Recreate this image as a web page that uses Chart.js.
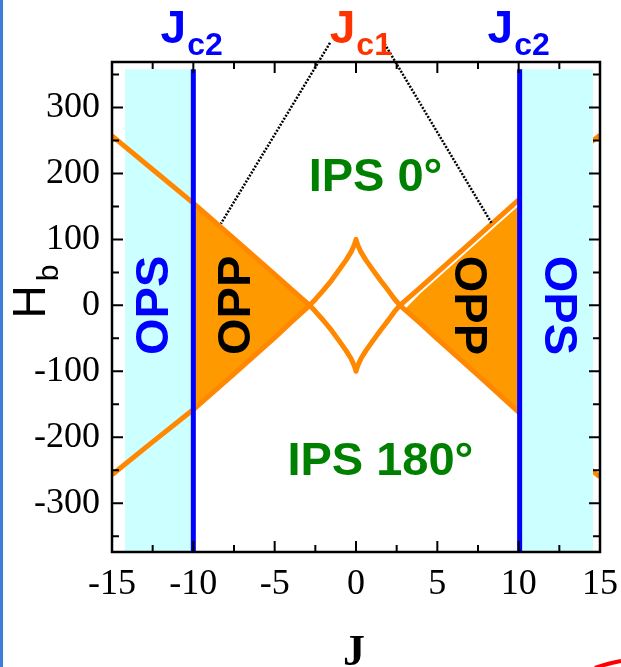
<!DOCTYPE html>
<html>
<head>
<meta charset="utf-8">
<script src="https://cdn.jsdelivr.net/npm/chart.js@4.4.1/dist/chart.umd.min.js"></script>
<style>
  html, body { margin: 0; padding: 0; background: #fff; }
  #wrap { position: relative; width: 621px; height: 667px; }
  #wrap::before { content: ""; position: absolute; left: 0; top: 0; width: 3px; height: 100%; background: #3b7dd8; }
</style>
</head>
<body>
<div id="wrap"><canvas id="phase" width="621" height="667"></canvas></div>
<script>
// axis ranges
const xMin = -15, xMax = 15;
const yMin = -374, yMax = 369;

// J grid shared by both boundary curves
const jGrid = [-15, -12.5, -10, -7.5, -5, -4, -2.85, -2.5, -2, -1.5, -1, -0.6, -0.3, -0.1, 0,
               0.1, 0.3, 0.6, 1, 1.5, 2, 2.35, 2.7, 4, 5, 7.5, 10, 12.5, 15];
// curve with the cusp at Hb = -100
const hLowerCusp = [257, 206, 155, 101, 47, 25, 0, -9, -23, -38, -55, -69, -81, -92, -100,
                    -92, -81, -69, -55, -38, -22, -10, 0, 28, 50, 105, 160, 210, 258];
// curve with the cusp at Hb = +100
const hUpperCusp = [-257, -207, -158, -104, -49, -26, 0, 9, 23, 38, 55, 69, 81, 92, 100,
                    92, 81, 69, 55, 38, 22, 10, 0, -28, -51, -106, -162, -212, -260];

// critical couplings
const jc2Left = -10, jc2Right = 10.06;
// OPS bands
const opsLeftEdge = -14.2, opsRightEdge = 14.57, bandTop = 358;

// right OPP region (drawn a little inside the upper boundary)
const oppRightJ = [3.0, 4, 5, 7.5, 10];
const oppRightTop = [-6, 19, 41, 96, 151];
const oppRightBottom = [-6, -28, -51, -106, -162];

// dotted leaders from the Jc1 label
const leaderLeftJ = [-1.6, -8.3], leaderLeftH = [398, 124];
const leaderRightJ = [1.65, 8.35], leaderRightH = [401, 124];

const pts = (js, hs) => js.map((j, i) => ({ x: j, y: hs[i] }));

// left OPP region lies between the two curves from Jc2 to the crossing
const iFrom = jGrid.indexOf(jc2Left), iTo = jGrid.indexOf(-2.85) + 1;
const oppLeftJ = jGrid.slice(iFrom, iTo);

const ORANGE_LINE = "#ff8800";
const ORANGE_FILL = "#ff9900";
const CYAN = "#ccffff";
const BLUE = "#0000ff";
const NONE = "rgba(0,0,0,0)";

const regionLabels = [
  { text: "IPS 0°", j: 1.2, h: 174, color: "#008000", rot: 0 },
  { text: "IPS 180°", j: 1.5, h: -257, color: "#008000", rot: 0 },
  { text: "OPS", j: -11.55, h: 0, color: BLUE, rot: -90 },
  { text: "OPP", j: -6.5, h: 0, color: "#000", rot: -90 },
  { text: "OPP", j: 6.1, h: 0, color: "#000", rot: 90 },
  { text: "OPS", j: 11.64, h: 0, color: BLUE, rot: 90 },
];
const jcLabels = [
  { sub: "c2", j: -10.1, color: BLUE },
  { sub: "c1", j: 0.3, color: "#ff3300" },
  { sub: "c2", j: 10.0, color: BLUE },
];

const decorations = {
  id: "decorations",
  afterDatasetsDraw(chart) {
    const { ctx, chartArea: area, scales: { x, y } } = chart;
    ctx.save();

    // region names
    ctx.font = "bold 47px 'Liberation Sans', Arial, sans-serif";
    ctx.textAlign = "center";
    ctx.textBaseline = "alphabetic";
    regionLabels.forEach(l => {
      ctx.save();
      ctx.translate(x.getPixelForValue(l.j), y.getPixelForValue(l.h));
      ctx.rotate(l.rot * Math.PI / 180);
      ctx.fillStyle = l.color;
      ctx.fillText(l.text, 0, 0);
      ctx.restore();
    });

    // Jc labels above the frame
    ctx.textAlign = "left";
    jcLabels.forEach(l => {
      const mainFont = "bold 46px 'Liberation Sans', Arial, sans-serif";
      const subFont = "bold 32px 'Liberation Sans', Arial, sans-serif";
      ctx.font = mainFont;
      const wMain = ctx.measureText("J").width;
      ctx.font = subFont;
      const wSub = ctx.measureText(l.sub).width;
      const start = x.getPixelForValue(l.j) - (wMain + wSub + 1) / 2;
      ctx.fillStyle = l.color;
      ctx.font = mainFont;
      ctx.fillText("J", start, area.top - 19);
      ctx.font = subFont;
      ctx.fillText(l.sub, start + wMain + 1, area.top - 7);
    });

    // frame
    ctx.strokeStyle = "#000";
    ctx.lineWidth = 2.5;
    ctx.strokeRect(area.left, area.top, area.right - area.left, area.bottom - area.top);

    // inward ticks on all four sides, minor ticks halfway
    ctx.lineWidth = 2;
    ctx.beginPath();
    for (let v = xMin; v <= xMax + 1e-9; v += 2.5) {
      const px = x.getPixelForValue(v);
      const len = Math.abs(v % 5) < 1e-9 ? 11 : 7;
      ctx.moveTo(px, area.bottom); ctx.lineTo(px, area.bottom - len);
      ctx.moveTo(px, area.top); ctx.lineTo(px, area.top + len);
    }
    for (let v = Math.ceil(yMin / 50) * 50; v <= yMax; v += 50) {
      const py = y.getPixelForValue(v);
      const len = v % 100 === 0 ? 11 : 7;
      ctx.moveTo(area.left, py); ctx.lineTo(area.left + len, py);
      ctx.moveTo(area.right, py); ctx.lineTo(area.right - len, py);
    }
    ctx.stroke();

    // axis titles
    ctx.fillStyle = "#000";
    ctx.font = "bold 44px 'Liberation Serif', 'Times New Roman', serif";
    ctx.textAlign = "center";
    ctx.fillText("J", (area.left + area.right) / 2 - 2, chart.height - 2);

    ctx.save();
    ctx.translate(area.left - 67, y.getPixelForValue(-20));
    ctx.rotate(-Math.PI / 2);
    ctx.textAlign = "left";
    ctx.font = "46px 'Liberation Sans', Arial, sans-serif";
    const wH = ctx.measureText("H").width;
    ctx.fillText("H", 0, 0);
    ctx.font = "30px 'Liberation Sans', Arial, sans-serif";
    ctx.fillText("b", wH + 4, 13);
    ctx.restore();

    // red stroke peeking in at the lower right
    ctx.strokeStyle = "#ff0000";
    ctx.lineWidth = 4;
    ctx.beginPath();
    ctx.moveTo(chart.width - 26, chart.height + 1);
    ctx.quadraticCurveTo(chart.width - 12, chart.height - 4, chart.width, chart.height - 6);
    ctx.stroke();

    ctx.restore();
  }
};

const flat = { pointRadius: 0, borderWidth: 0, borderColor: NONE };
const leader = { borderColor: "#000", borderWidth: 2.5, borderDash: [2, 1.5], pointRadius: 0, clip: false };
const boundary = { borderColor: ORANGE_LINE, borderWidth: 5, pointRadius: 0, borderJoinStyle: "round", fill: false };

new Chart(document.getElementById("phase"), {
  type: "line",
  data: {
    datasets: [
      { data: pts(leaderLeftJ, leaderLeftH), ...leader },
      { data: pts(leaderRightJ, leaderRightH), ...leader },
      { data: pts([jc2Left, jc2Left], [bandTop, yMin]), borderColor: BLUE, borderWidth: 5, pointRadius: 0 },
      { data: pts([jc2Right, jc2Right], [bandTop, yMin]), borderColor: BLUE, borderWidth: 5, pointRadius: 0 },
      { data: pts([jc2Right, opsRightEdge], [bandTop, bandTop]), ...flat, fill: { value: yMin }, backgroundColor: CYAN },
      { data: pts(jGrid, hLowerCusp), ...boundary },
      { data: pts(jGrid, hUpperCusp), ...boundary },
      { data: pts(oppLeftJ, hLowerCusp.slice(iFrom, iTo)), ...flat, fill: "+1", backgroundColor: ORANGE_FILL },
      { data: pts(oppLeftJ, hUpperCusp.slice(iFrom, iTo)), ...flat, fill: false },
      { data: pts(oppRightJ, oppRightTop), ...flat, fill: "+1", backgroundColor: ORANGE_FILL },
      { data: pts(oppRightJ, oppRightBottom), ...flat, fill: false },
      { data: pts([opsLeftEdge, jc2Left], [bandTop, bandTop]), ...flat, fill: { value: yMin }, backgroundColor: CYAN },
    ]
  },
  options: {
    responsive: false,
    animation: false,
    events: [],
    layout: { padding: { left: 0, top: 62, right: 17, bottom: 0 } },
    plugins: { legend: { display: false }, tooltip: { enabled: false } },
    scales: {
      x: {
        type: "linear",
        min: xMin, max: xMax,
        afterFit: s => { s.height = 115; },
        grid: { display: false },
        border: { display: false },
        ticks: {
          stepSize: 5, autoSkip: false, maxRotation: 0, padding: 3, color: "#000",
          font: { family: "'Liberation Serif', 'Times New Roman', serif", size: 36 }
        }
      },
      y: {
        type: "linear",
        min: yMin, max: yMax,
        afterFit: s => { s.width = 112; },
        grid: { display: false },
        border: { display: false },
        ticks: {
          stepSize: 100, includeBounds: false, padding: 4, color: "#000",
          font: { family: "'Liberation Serif', 'Times New Roman', serif", size: 36 }
        }
      }
    }
  },
  plugins: [decorations]
});
</script>
</body>
</html>
